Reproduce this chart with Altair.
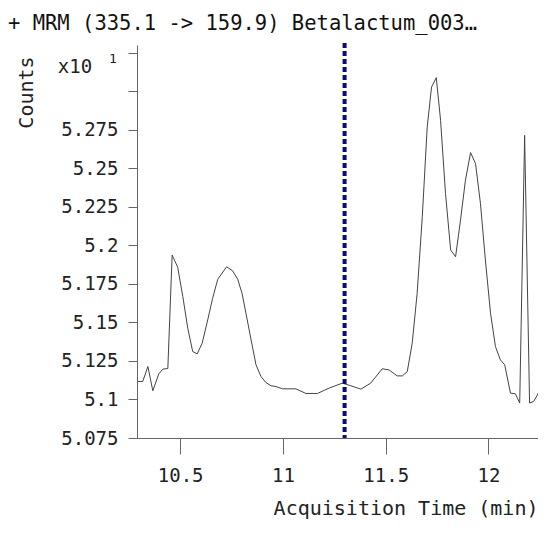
import altair as alt
import pandas as pd

# ---- data ----
time_min = [10.294, 10.318, 10.343, 10.367, 10.396, 10.416, 10.440, 10.461, 10.488, 10.513,
            10.537, 10.561, 10.583, 10.607, 10.634, 10.658, 10.683, 10.726, 10.755, 10.780,
            10.801, 10.820, 10.845, 10.869, 10.893, 10.917, 10.942, 10.966, 10.998, 11.063,
            11.112, 11.168, 11.225, 11.289, 11.330, 11.379, 11.427, 11.483, 11.516, 11.556,
            11.581, 11.605, 11.629, 11.653, 11.678, 11.702, 11.723, 11.746, 11.767, 11.791,
            11.816, 11.840, 11.864, 11.888, 11.913, 11.937, 11.961, 11.985, 12.010, 12.034,
            12.058, 12.079, 12.107, 12.131, 12.152, 12.176, 12.200, 12.220, 12.249, 12.273]
counts = [5.1117, 5.1117, 5.1214, 5.1056, 5.1166, 5.1197, 5.1201, 5.1937, 5.1858, 5.1667,
          5.1462, 5.1311, 5.1296, 5.1365, 5.1516, 5.1657, 5.1780, 5.1861, 5.1835, 5.1780,
          5.1689, 5.1560, 5.1387, 5.1225, 5.1149, 5.1110, 5.1089, 5.1084, 5.1069, 5.1069,
          5.1039, 5.1039, 5.1074, 5.1106, 5.1089, 5.1067, 5.1106, 5.1199, 5.1192, 5.1153,
          5.1153, 5.1181, 5.1365, 5.1689, 5.2185, 5.2768, 5.3027, 5.3088, 5.2812, 5.2337,
          5.1970, 5.1926, 5.2164, 5.2423, 5.2602, 5.2531, 5.2272, 5.1905, 5.1560, 5.1343,
          5.1257, 5.1225, 5.1041, 5.1037, 5.0977, 5.2714, 5.0977, 5.0987, 5.1056, 5.1041]
marker_time = [11.3]

x_ticks = [10.5, 11, 11.5, 12]
y_ticks = [5.075, 5.1, 5.125, 5.15, 5.175, 5.2, 5.225, 5.25, 5.275, 5.3, 5.325]
x_domain = [10.29, 12.241]
y_domain = [5.075, 5.33]

title_text = "+ MRM (335.1 -> 159.9) Betalactum_003…"
x_title = "Acquisition Time (min)"
y_title = "Counts"
exp_base = "x10"
exp_power = "1"

FONT = "DejaVu Sans Mono"
W, H = 401, 393

df = pd.DataFrame({"t": time_min, "c": counts})

x_enc = alt.X("t:Q", scale=alt.Scale(domain=x_domain, nice=False, zero=False),
              axis=alt.Axis(values=x_ticks, format="~g", title=x_title,
                            tickSize=16, labelPadding=12,
                            titleX=W, titleY=70, titleAlign="right",
                            titleAnchor=None, titleBaseline="middle",
                            titleFontSize=20, titleFontWeight="normal"))
y_enc = alt.Y("c:Q", scale=alt.Scale(domain=y_domain, nice=False, zero=False),
              axis=alt.Axis(values=y_ticks, title=y_title,
                            labelExpr="datum.value > 5.29 ? '' : format(datum.value, '~g')",
                            tickSize=9, labelPadding=10,
                            titleX=-111, titleY=47, titleAngle=270,
                            titleAlign="center", titleBaseline="middle",
                            titleFontSize=20, titleFontWeight="normal"))

line = alt.Chart(df).mark_line(color="#444444", strokeWidth=1, clip=True).encode(x=x_enc, y=y_enc)

marker = alt.Chart(pd.DataFrame({"t": marker_time})).mark_rule(
    color="#0a0a78", strokeWidth=4, strokeDash=[5, 3]
).encode(x="t:Q", y=alt.value(-2), y2=alt.value(H))

title = alt.Chart(pd.DataFrame({"s": [title_text]})).mark_text(
    font=FONT, fontSize=20.5, align="left", baseline="alphabetic", color="#111"
).encode(text="s:N", x=alt.value(-129), y=alt.value(-15))

exp1 = alt.Chart(pd.DataFrame({"s": [exp_base]})).mark_text(
    font=FONT, fontSize=19, align="center", baseline="middle", color="#222"
).encode(text="s:N", x=alt.value(-62), y=alt.value(22))

exp2 = alt.Chart(pd.DataFrame({"s": [exp_power]})).mark_text(
    font=FONT, fontSize=13, align="center", baseline="middle", color="#222"
).encode(text="s:N", x=alt.value(-24), y=alt.value(14))

chart = alt.layer(line, marker, title, exp1, exp2).properties(
    width=W, height=H,
    autosize="none",
    padding={"left": 129, "top": 37, "right": 0, "bottom": 84},
).configure_view(stroke=None).configure_axis(
    grid=False, domainColor="#666", tickColor="#666", labelColor="#222",
    titleColor="#222", labelFont=FONT, titleFont=FONT, labelFontSize=19,
)

chart.save("out.html", embed_options={"renderer": "svg", "actions": False})
